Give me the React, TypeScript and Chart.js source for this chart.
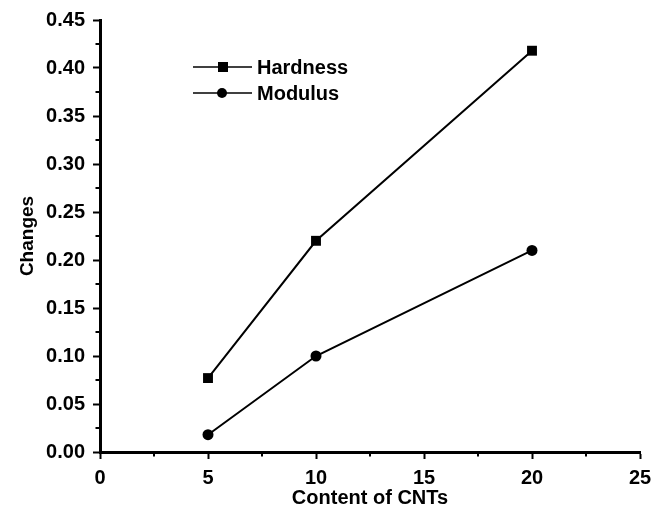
import React, { useEffect, useRef } from "react";
import { Chart, registerables } from "chart.js";

Chart.register(...registerables);

const contentCNTs = [5, 10, 20];
const hardness = [0.077, 0.22, 0.418];
const modulus = [0.018, 0.1, 0.21];
const seriesNames = ["Hardness", "Modulus"];
const xTitle = "Content of CNTs";
const yTitle = "Changes";

const FONT = "'Liberation Sans', Arial, sans-serif";

const minorTicks = {
  id: "minorTicks",
  afterDraw(chart: any) {
    const ctx = chart.ctx;
    const xs = chart.scales.x;
    const ys = chart.scales.y;
    ctx.save();
    ctx.strokeStyle = "#000";
    ctx.lineWidth = 2;
    for (let v = 2.5; v < 25; v += 5) {
      const px = xs.getPixelForValue(v);
      ctx.beginPath();
      ctx.moveTo(px, ys.bottom);
      ctx.lineTo(px, ys.bottom + 4.5);
      ctx.stroke();
    }
    for (let v = 0.025; v < 0.45; v += 0.05) {
      const py = ys.getPixelForValue(v);
      ctx.beginPath();
      ctx.moveTo(xs.left, py);
      ctx.lineTo(xs.left - 4.5, py);
      ctx.stroke();
    }
    // legend
    const entries = [
      { name: seriesNames[0], style: "rect", y: 67 },
      { name: seriesNames[1], style: "circle", y: 93 },
    ];
    ctx.font = `bold 20px ${FONT}`;
    ctx.textBaseline = "middle";
    ctx.textAlign = "left";
    ctx.fillStyle = "#000";
    for (const e of entries) {
      ctx.lineWidth = 1.5;
      ctx.beginPath();
      ctx.moveTo(193, e.y);
      ctx.lineTo(252, e.y);
      ctx.stroke();
      ctx.beginPath();
      if (e.style === "rect") {
        ctx.rect(223 - 5, e.y - 5, 10, 10);
      } else {
        ctx.arc(222, e.y, 5, 0, Math.PI * 2);
      }
      ctx.fill();
      ctx.fillText(e.name, 257, e.y + 1);
    }
    ctx.restore();
  },
};

export default function App() {
  const ref = useRef<HTMLCanvasElement | null>(null);
  useEffect(() => {
    document.body.style.margin = "0";
    const canvas = ref.current!;
    const chart = new Chart(canvas, {
      type: "line",
      data: {
        datasets: [
          {
            label: seriesNames[0],
            data: contentCNTs.map((x, i) => ({ x, y: hardness[i] })),
            borderColor: "#000",
            backgroundColor: "#000",
            borderWidth: 2,
            pointStyle: "rect",
            pointRadius: 7,
            pointBorderWidth: 0,
          },
          {
            label: seriesNames[1],
            data: contentCNTs.map((x, i) => ({ x, y: modulus[i] })),
            borderColor: "#000",
            backgroundColor: "#000",
            borderWidth: 2,
            pointStyle: "circle",
            pointRadius: 5.5,
            pointBorderWidth: 0,
          },
        ],
      },
      options: {
        animation: false,
        responsive: false,
        maintainAspectRatio: false,
        layout: { padding: { top: 20, right: 23, left: 0, bottom: 0 } },
        plugins: { legend: { display: false }, tooltip: { enabled: false } },
        scales: {
          x: {
            type: "linear",
            min: 0,
            max: 25,
            border: { display: true, color: "#000", width: 3 },
            grid: {
              drawOnChartArea: false,
              drawTicks: true,
              tickLength: 7,
              tickColor: "#000",
              tickWidth: 2,
              color: "#000",
            },
            ticks: {
              stepSize: 5,
              color: "#000",
              padding: 7,
              maxRotation: 0,
              font: { family: FONT, size: 20, weight: "bold" },
            },
            title: {
              display: true,
              text: xTitle,
              color: "#000",
              padding: { top: 0, bottom: 4 },
              font: { family: FONT, size: 20, weight: "bold" },
            },
            afterFit(scale: any) {
              scale.height = 62;
            },
          },
          y: {
            type: "linear",
            min: 0,
            max: 0.45,
            border: { display: true, color: "#000", width: 3 },
            grid: {
              drawOnChartArea: false,
              drawTicks: true,
              tickLength: 7,
              tickColor: "#000",
              tickWidth: 2,
              color: "#000",
            },
            ticks: {
              stepSize: 0.05,
              color: "#000",
              padding: 8,
              font: { family: FONT, size: 20, weight: "bold" },
              callback: (v: any) => Number(v).toFixed(2),
            },
            title: {
              display: true,
              text: yTitle,
              color: "#000",
              padding: 16,
              font: { family: FONT, size: 19, weight: "bold" },
            },
            afterFit(scale: any) {
              scale.width = 100;
            },
          },
        },
      },
      plugins: [minorTicks],
    } as any);
    return () => chart.destroy();
  }, []);
  return (
    <div style={{ position: "absolute", left: 0, top: 0, width: 663, height: 514, background: "#fff" }}>
      <canvas ref={ref} width={663} height={514} style={{ display: "block" }} />
    </div>
  );
}
